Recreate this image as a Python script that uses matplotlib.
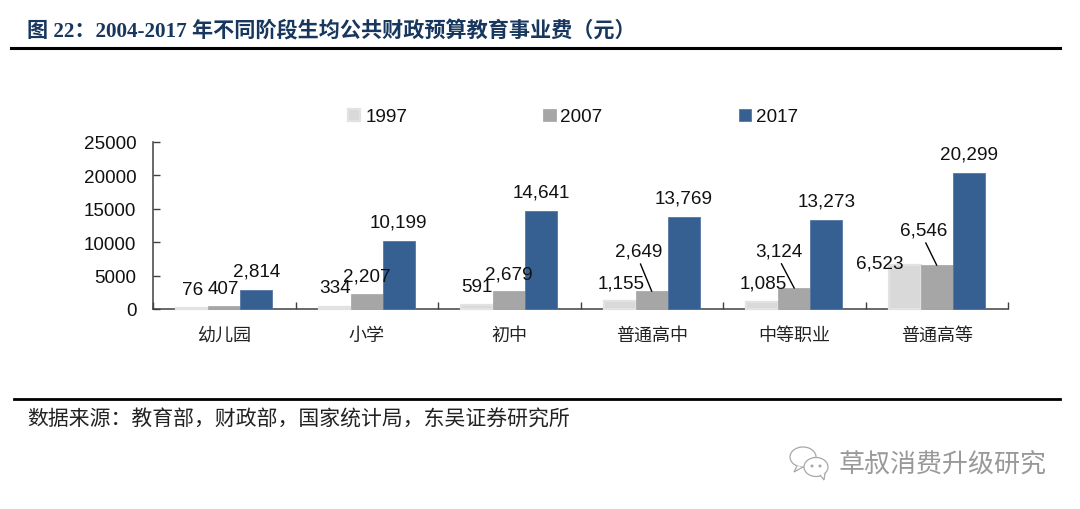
import matplotlib
matplotlib.use('Agg')
import matplotlib.pyplot as plt
from matplotlib.lines import Line2D
from matplotlib.patches import Ellipse, Polygon
import numpy as np

W, H = 1080, 510

categories = ['幼儿园', '小学', '初中', '普通高中', '中等职业', '普通高等']
years = ['1997', '2007', '2017']
v1997 = [76, 334, 591, 1155, 1085, 6523]
v2007 = [407, 2207, 2679, 2649, 3124, 6546]
v2017 = [2814, 10199, 14641, 13769, 13273, 20299]
yticks = [0, 5000, 10000, 15000, 20000, 25000]

# full-width punctuation written as escapes so it stays full-width
title = '图 22\uff1a2004-2017 年不同阶段生均公共财政预算教育事业费\uff08元\uff09'
source = '数据来源\uff1a教育部\uff0c财政部\uff0c国家统计局\uff0c东吴证券研究所'
watermark = '草叔消费升级研究'

colors = ['#D9D9D9', '#A6A6A6', '#376092']
edges = ['#E2E2E2', '#ABABAB', '#5577A3']
edge_widths = [1.6, 0.6, 0.6]

# label shift from the top of each bar, in pixels (dx, dy)
shift1997 = [(0, 19), (0, 19), (0, 19), (1, 18), (1, 19), (-25, 2)]
shift2007 = [(-1, 18), (0, 18), (0, 17), (-13, 40), (-15, 37), (-13, 35)]
shift2017 = [(0, 19), (0, 19), (0, 19), (0, 19), (0, 19), (0, 19)]

latin = ['Liberation Sans', 'Noto Sans CJK SC']
serif = ['Liberation Serif', 'Noto Sans CJK SC']
plt.rcParams['font.family'] = latin


def fx(px):
    return px / W


def fy(px):
    return 1 - px / H


fig = plt.figure(figsize=(W / 100, H / 100), dpi=100)
ax = fig.add_axes([fx(153), fy(310), fx(1008 - 153), fy(143) - fy(310)])

x = np.arange(len(categories))
width = 0.225
series = [v1997, v2007, v2017]
shifts = [shift1997, shift2007, shift2017]

for i, vals in enumerate(series):
    xpos = x + (i - 1) * width
    ax.bar(xpos, vals, width, color=colors[i], label=years[i], edgecolor=edges[i],
           linewidth=edge_widths[i], zorder=3, clip_on=False)
    for xp, v, (dx, dy) in zip(xpos, vals, shifts[i]):
        # the pulled-away labels get a leader line back to the bar
        arrow = None
        if dy > 30:
            arrow = dict(arrowstyle='-', color='black', lw=1.0, relpos=(0.5, 0),
                         shrinkA=1, shrinkB=0)
        ax.annotate(f'{v:,}', (xp, v), xytext=(dx * 0.72, dy * 0.72),
                    textcoords='offset points', ha='center', va='center',
                    fontsize=13.6, color='#111111', arrowprops=arrow, zorder=5,
                    annotation_clip=False)

ax.set_xlim(-0.5, 5.5)
ax.set_ylim(0, 25000)
ax.set_yticks(yticks)
ax.set_xticks(np.arange(-0.5, 6, 1))
ax.set_xticklabels([])
ax.set_xticks(x, minor=True)
ax.set_xticklabels(categories, minor=True, fontsize=13, color='#222222')
ax.tick_params(axis='y', direction='in', length=5, width=1, color='#404040',
               labelsize=13.6, pad=12, labelcolor='#111111')
ax.tick_params(axis='x', which='major', direction='in', length=5, width=1, color='#404040')
ax.tick_params(axis='x', which='minor', length=0, pad=13)
for s in ['top', 'right']:
    ax.spines[s].set_visible(False)
for s in ['left', 'bottom']:
    ax.spines[s].set_color('#404040')
    ax.spines[s].set_linewidth(1.1)

fig.legend(loc='center left', bbox_to_anchor=(fx(348), fy(118)), ncol=3, frameon=False,
           fontsize=13.6, handlelength=0.66, handleheight=0.66, handletextpad=0.25,
           columnspacing=7.2, borderpad=0, borderaxespad=0, labelcolor='#111111')

# header and footer rules
fig.add_artist(Line2D([fx(11), fx(1060)], [fy(49), fy(49)], color='black', lw=2.2))
fig.add_artist(Line2D([fx(14), fx(1060)], [fy(400), fy(400)], color='black', lw=2.0))

fig.text(fx(27), fy(32), title, family=serif, fontsize=15.2, fontweight='bold',
         color='#17375E', va='center')
fig.text(fx(27), fy(420), source, family=latin, fontsize=15, color='#222222', va='center')

# watermark
wm = '#A8A8A8'
fig.text(fx(838), fy(465), watermark, family=latin, fontsize=18.7, color='#999999',
         va='center', fontweight='light')
fig.add_artist(Ellipse((fx(803), fy(458)), fx(26), 20 / H, fc='white', ec=wm, lw=0.9))
fig.add_artist(Polygon([[fx(797), fy(467)], [fx(794), fy(473)], [fx(803), fy(468)]],
                       closed=False, fc='white', ec=wm, lw=0.9))
fig.add_artist(Ellipse((fx(816), fy(468)), fx(24), 19 / H, fc='white', ec=wm, lw=0.9))
fig.add_artist(Polygon([[fx(820), fy(476)], [fx(824), fy(481)], [fx(825), fy(474)]],
                       closed=False, fc='white', ec=wm, lw=0.9))
for px, py in [(812, 467), (820, 467)]:
    fig.add_artist(Ellipse((fx(px), fy(py)), fx(3), 3 / H, fc=wm, ec='none'))

fig.savefig('out.png', dpi=100)
